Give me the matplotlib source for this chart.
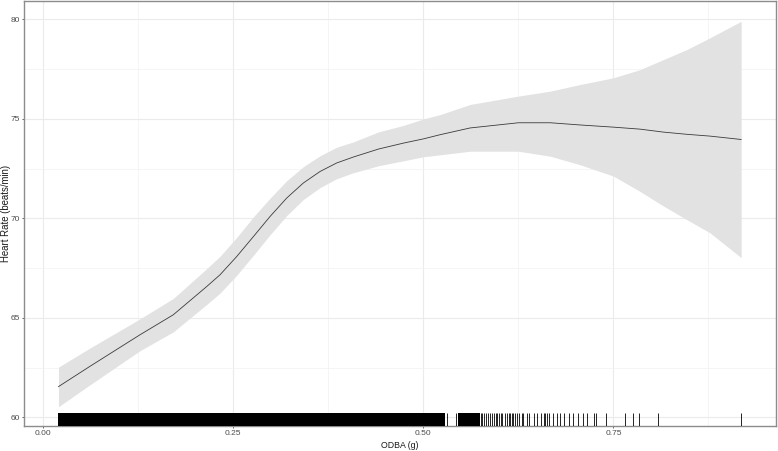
import numpy as np
import matplotlib.pyplot as plt

# ── smooth fit ────────────────────────────────────────────────────────────
odba = [0.020, 0.061, 0.127, 0.171, 0.215, 0.2325, 0.2545, 0.2764, 0.2983,
        0.3203, 0.342, 0.364, 0.386, 0.408, 0.441, 0.474, 0.500, 0.522,
        0.5615, 0.625, 0.667, 0.706, 0.750, 0.785, 0.816, 0.8466, 0.877, 0.918]
hr_fit = [61.55, 62.56, 64.15, 65.16, 66.58, 67.17, 68.09, 69.09, 70.10,
          71.03, 71.78, 72.36, 72.79, 73.09, 73.49, 73.79, 74.00, 74.21,
          74.55, 74.81, 74.81, 74.70, 74.59, 74.49, 74.34, 74.23, 74.14, 73.97]
hr_lo = [60.54, 61.63, 63.35, 64.30, 65.68, 66.25, 67.15, 68.15, 69.18,
         70.15, 70.95, 71.55, 72.00, 72.30, 72.65, 72.90, 73.10, 73.20,
         73.38, 73.38, 73.13, 72.70, 72.13, 71.36, 70.62, 69.94, 69.28, 68.03]
hr_hi = [62.53, 63.48, 64.95, 65.98, 67.48, 68.10, 69.05, 70.08, 71.02,
         71.90, 72.60, 73.15, 73.58, 73.85, 74.35, 74.68, 75.00, 75.22,
         75.73, 76.15, 76.40, 76.73, 77.07, 77.48, 77.99, 78.49, 79.08, 79.91]

# ── rug: solid blocks where observations overlap, plus single ticks ───────
rug_blocks = [(0.020, 0.529), (0.545, 0.575)]
rug_ticks = [0.531, 0.543, 0.5755, 0.5777, 0.580, 0.5825, 0.5855, 0.5878,
             0.590, 0.593, 0.5953, 0.5974, 0.600, 0.6018, 0.604, 0.6075,
             0.6097, 0.612, 0.614, 0.616, 0.6184, 0.6207, 0.623, 0.626,
             0.6295, 0.6316, 0.636, 0.6395, 0.6457, 0.650, 0.6545, 0.658,
             0.660, 0.663, 0.6654, 0.670, 0.676, 0.680, 0.685, 0.691, 0.697,
             0.704, 0.710, 0.715, 0.724, 0.727, 0.740, 0.765, 0.776, 0.784,
             0.808, 0.918]

x_ticks = [0.00, 0.25, 0.50, 0.75]
x_labels = ['0.00', '0.25', '0.50', '0.75']
x_minor = [0.125, 0.375, 0.625, 0.875]
y_ticks = [60, 65, 70, 75, 80]
y_minor = [62.5, 67.5, 72.5, 77.5]

plt.rcParams['font.family'] = ['Liberation Sans', 'DejaVu Sans']

fig = plt.figure(figsize=(7.78, 4.51), dpi=100)
ax = fig.add_axes([0.0308, 0.0554, 0.9666, 0.9424])

ax.set_xlim(-0.0254, 0.9638)
ax.set_ylim(59.57, 80.93)

# grid like ggplot theme_bw
for v in x_ticks:
    ax.axvline(v, color='#EBEBEB', lw=0.8, zorder=0)
for v in x_minor:
    ax.axvline(v, color='#F2F2F2', lw=0.5, zorder=0)
for v in y_ticks:
    ax.axhline(v, color='#EBEBEB', lw=0.8, zorder=0)
for v in y_minor:
    ax.axhline(v, color='#F2F2F2', lw=0.5, zorder=0)

ax.fill_between(odba, hr_lo, hr_hi, color='#E2E2E2', lw=0, zorder=1)
ax.plot(odba, hr_fit, color='#3A3A3A', lw=0.6, zorder=2)

for x0, x1 in rug_blocks:
    ax.axvspan(x0, x1, ymin=0, ymax=0.03, color='black', lw=0, zorder=3)
ax.vlines(rug_ticks, 0, 0.03, transform=ax.get_xaxis_transform(),
          color='black', lw=0.6, zorder=3)

ax.set_xticks(x_ticks)
ax.set_xticklabels(x_labels)
ax.set_yticks(y_ticks)
ax.tick_params(axis='both', length=1.6, width=0.6, color='#4D4D4D',
               labelcolor='#4D4D4D', labelsize=6.0, pad=1.6)

for s in ax.spines.values():
    s.set_color('#8C8C8C')
    s.set_linewidth(1.0)

ax.set_xlabel('ODBA (g)', fontsize=6.3, va='center', color='#1A1A1A')
ax.xaxis.set_label_coords(0.5, -0.045)
ax.set_ylabel('Heart Rate (beats/min)', fontsize=6.9, va='center', color='#1A1A1A')
ax.yaxis.set_label_coords(-0.0235, 0.5)

fig.savefig('out.png', dpi=100)
